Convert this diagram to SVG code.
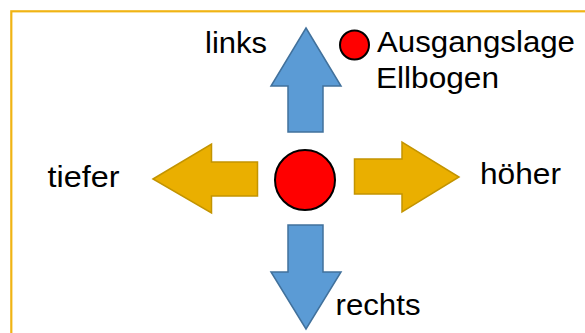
<svg xmlns="http://www.w3.org/2000/svg" width="585" height="333" viewBox="0 0 585 333">
<style>
.lbl{font-family:"Liberation Sans",Arial,sans-serif;font-size:29.5px;fill:#000}
.blue{fill:#5B9BD5;stroke:#41719C;stroke-width:1.5}
.orange{fill:#EAAF00;stroke:#C39400;stroke-width:1.5}
.dot{fill:#FF0000;stroke:#000;stroke-width:2}
</style>
<rect x="11.3" y="11.3" width="600" height="340" fill="#fff" stroke="#F0B414" stroke-width="2.2"/>
<g id="connectors">
<polygon id="arrow-up" class="blue" points="306,28 341,86 323,86 323,132 288,132 288,86 271,86"/>
<polygon id="arrow-down" class="blue" points="288,225 323,225 323,272 341,272 306,329 271,272 288,272"/>
<polygon id="arrow-left" class="orange" points="153,179 211.5,144 211.5,162 257.5,162 257.5,196 211.5,196 211.5,213"/>
<polygon id="arrow-right" class="orange" points="354.5,159 402,159 402,142 459,177 402,212 402,194 354.5,194"/>
</g>
<g id="center"><circle class="dot" cx="305" cy="180" r="30"/></g>
<g id="legend">
<circle class="dot" cx="354.5" cy="45" r="14.5"/>
<text class="lbl" x="377" y="52" textLength="198" lengthAdjust="spacingAndGlyphs">Ausgangslage</text>
<text class="lbl" x="376" y="87.5" textLength="123" lengthAdjust="spacingAndGlyphs">Ellbogen</text>
</g>
<g id="label-links"><text class="lbl" x="205" y="52.5" textLength="62" lengthAdjust="spacingAndGlyphs">links</text></g>
<g id="label-rechts"><text class="lbl" x="335.5" y="314.5" textLength="85" lengthAdjust="spacingAndGlyphs">rechts</text></g>
<g id="label-tiefer"><text class="lbl" x="47.5" y="186.5" textLength="72" lengthAdjust="spacingAndGlyphs">tiefer</text></g>
<g id="label-hoeher"><text class="lbl" x="480" y="184" textLength="81" lengthAdjust="spacingAndGlyphs">höher</text></g>
</svg>
